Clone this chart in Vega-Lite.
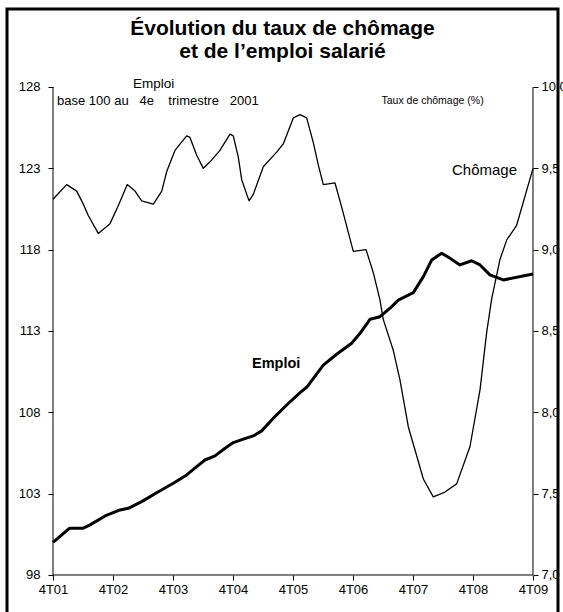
{
  "$schema": "https://vega.github.io/schema/vega-lite/v6.json",
  "autosize": "none",
  "width": 551,
  "height": 610,
  "padding": {"left": 7, "top": 9, "right": 5, "bottom": 0},
  "background": "white",
  "config": {
    "view": {"stroke": "black", "strokeWidth": 3},
    "font": "Liberation Sans",
    "axis": {"labelColor": "black", "tickColor": "black", "labelFont": "Liberation Sans", "labelFontSize": 13, "grid": false, "domain": false, "tickSize": 5, "title": null}
  },
  "title": {
    "text": ["Évolution du taux de chômage", "et de l’emploi salarié"],
    "font": "Liberation Sans",
    "fontSize": 21,
    "fontWeight": "bold",
    "color": "black",
    "anchor": "middle",
    "frame": "group",
    "offset": -53,
    "lineHeight": 23
  },
  "datasets": {
    "emploi": [
      {"t": 0, "emploi": 100.0}, {"t": 1.09, "emploi": 100.87}, {"t": 1.98, "emploi": 100.87}, {"t": 2.47, "emploi": 101.08},
      {"t": 3.47, "emploi": 101.63}, {"t": 4.47, "emploi": 102.0}, {"t": 5.02, "emploi": 102.1}, {"t": 5.91, "emploi": 102.51},
      {"t": 6.91, "emploi": 103.06}, {"t": 8.02, "emploi": 103.64}, {"t": 8.91, "emploi": 104.15}, {"t": 9.58, "emploi": 104.66},
      {"t": 10.13, "emploi": 105.07}, {"t": 10.8, "emploi": 105.32}, {"t": 11.47, "emploi": 105.79}, {"t": 12.02, "emploi": 106.14},
      {"t": 12.69, "emploi": 106.35}, {"t": 13.35, "emploi": 106.55}, {"t": 13.91, "emploi": 106.86}, {"t": 14.69, "emploi": 107.64},
      {"t": 15.58, "emploi": 108.45}, {"t": 16.47, "emploi": 109.21}, {"t": 16.91, "emploi": 109.54}, {"t": 18.02, "emploi": 110.9},
      {"t": 18.91, "emploi": 111.57}, {"t": 19.91, "emploi": 112.25}, {"t": 20.47, "emploi": 112.86}, {"t": 21.13, "emploi": 113.72},
      {"t": 21.8, "emploi": 113.88}, {"t": 22.47, "emploi": 114.4}, {"t": 23.02, "emploi": 114.9}, {"t": 24.02, "emploi": 115.36},
      {"t": 24.69, "emploi": 116.34}, {"t": 25.25, "emploi": 117.37}, {"t": 25.91, "emploi": 117.78}, {"t": 26.47, "emploi": 117.47},
      {"t": 27.13, "emploi": 117.06}, {"t": 27.91, "emploi": 117.32}, {"t": 28.47, "emploi": 117.06}, {"t": 29.13, "emploi": 116.45},
      {"t": 30.02, "emploi": 116.14}, {"t": 32, "emploi": 116.5}
    ],
    "chomage": [
      {"t": 0, "chomage": 9.31}, {"t": 0.91, "chomage": 9.4}, {"t": 1.58, "chomage": 9.36}, {"t": 2.02, "chomage": 9.28},
      {"t": 2.35, "chomage": 9.21}, {"t": 3.02, "chomage": 9.1}, {"t": 3.8, "chomage": 9.16}, {"t": 4.35, "chomage": 9.27},
      {"t": 4.95, "chomage": 9.4}, {"t": 5.47, "chomage": 9.36}, {"t": 5.91, "chomage": 9.3}, {"t": 6.69, "chomage": 9.28},
      {"t": 7.25, "chomage": 9.36}, {"t": 7.58, "chomage": 9.48}, {"t": 8.13, "chomage": 9.61}, {"t": 8.91, "chomage": 9.7},
      {"t": 9.13, "chomage": 9.69}, {"t": 9.58, "chomage": 9.58}, {"t": 10.02, "chomage": 9.5}, {"t": 10.47, "chomage": 9.54},
      {"t": 11.13, "chomage": 9.61}, {"t": 11.8, "chomage": 9.71}, {"t": 12.02, "chomage": 9.7}, {"t": 12.35, "chomage": 9.57},
      {"t": 12.58, "chomage": 9.43}, {"t": 13.07, "chomage": 9.3}, {"t": 13.35, "chomage": 9.34}, {"t": 14.02, "chomage": 9.51},
      {"t": 14.91, "chomage": 9.6}, {"t": 15.35, "chomage": 9.65}, {"t": 16.02, "chomage": 9.81}, {"t": 16.47, "chomage": 9.83},
      {"t": 16.91, "chomage": 9.81}, {"t": 17.35, "chomage": 9.66}, {"t": 17.69, "chomage": 9.52}, {"t": 18.02, "chomage": 9.4},
      {"t": 18.8, "chomage": 9.41}, {"t": 19.25, "chomage": 9.26}, {"t": 20.02, "chomage": 8.99}, {"t": 20.87, "chomage": 9.0},
      {"t": 21.35, "chomage": 8.86}, {"t": 21.8, "chomage": 8.69}, {"t": 22.02, "chomage": 8.57}, {"t": 22.69, "chomage": 8.38},
      {"t": 23.13, "chomage": 8.2}, {"t": 23.69, "chomage": 7.91}, {"t": 24.13, "chomage": 7.77}, {"t": 24.69, "chomage": 7.59},
      {"t": 25.35, "chomage": 7.48}, {"t": 26.13, "chomage": 7.51}, {"t": 26.91, "chomage": 7.56}, {"t": 27.8, "chomage": 7.79},
      {"t": 28.47, "chomage": 8.14}, {"t": 28.91, "chomage": 8.49}, {"t": 29.25, "chomage": 8.7}, {"t": 29.8, "chomage": 8.94},
      {"t": 30.25, "chomage": 9.06}, {"t": 30.91, "chomage": 9.15}, {"t": 32, "chomage": 9.5}
    ]
  },
  "layer": [
    {
      "layer": [
        {
          "data": {"name": "emploi"},
          "mark": {"type": "line", "color": "black", "strokeWidth": 3, "strokeJoin": "round"},
          "encoding": {
            "x": {"field": "t", "type": "quantitative",
              "scale": {"domain": [-3.0667, 33.6667], "nice": false, "zero": false},
              "axis": {"orient": "bottom", "offset": -44, "values": [0, 4, 8, 12, 16, 20, 24, 28, 32], "labelExpr": "'4T0' + (datum.value / 4 + 1)", "labelPadding": 3, "labelFlush": false}},
            "y": {"field": "emploi", "type": "quantitative",
              "scale": {"domain": [95.295, 132.795], "nice": false, "zero": false},
              "axis": {"orient": "left", "offset": -46, "values": [98, 103, 108, 113, 118, 123, 128], "labelPadding": 8}}
          }
        },
        {
          "data": {"values": [{}]},
          "mark": {"type": "rule", "color": "black", "strokeWidth": 1},
          "encoding": {"x": {"datum": 0, "type": "quantitative"}, "y": {"datum": 98, "type": "quantitative"}, "y2": {"datum": 128}}
        },
        {
          "data": {"values": [{}]},
          "mark": {"type": "rule", "color": "black", "strokeWidth": 1},
          "encoding": {"x": {"datum": 32, "type": "quantitative"}, "y": {"datum": 98, "type": "quantitative"}, "y2": {"datum": 128}}
        },
        {
          "data": {"values": [{}]},
          "mark": {"type": "rule", "color": "black", "strokeWidth": 1},
          "encoding": {"x": {"datum": 0, "type": "quantitative"}, "x2": {"datum": 32}, "y": {"datum": 98, "type": "quantitative"}}
        },
        {
          "data": {"values": [{}]},
          "mark": {"type": "text", "text": "Emploi", "fontSize": 13.5, "align": "center", "baseline": "middle", "color": "black"},
          "encoding": {"x": {"datum": 6.7, "type": "quantitative"}, "y": {"datum": 128.2, "type": "quantitative"}}
        },
        {
          "data": {"values": [{}]},
          "mark": {"type": "text", "text": "base 100 au\u00a0\u00a0 4e\u00a0\u00a0\u00a0 trimestre\u00a0\u00a0 2001", "fontSize": 13, "align": "left", "baseline": "middle", "color": "black"},
          "encoding": {"x": {"datum": 0.27, "type": "quantitative"}, "y": {"datum": 127.14, "type": "quantitative"}}
        },
        {
          "data": {"values": [{}]},
          "mark": {"type": "text", "text": "Taux de chômage (%)", "fontSize": 10.5, "align": "left", "baseline": "middle", "color": "black"},
          "encoding": {"x": {"datum": 21.9, "type": "quantitative"}, "y": {"datum": 127.14, "type": "quantitative"}}
        },
        {
          "data": {"values": [{}]},
          "mark": {"type": "text", "text": "Chômage", "fontSize": 15, "align": "left", "baseline": "middle", "color": "black"},
          "encoding": {"x": {"datum": 26.6, "type": "quantitative"}, "y": {"datum": 122.9, "type": "quantitative"}}
        },
        {
          "data": {"values": [{}]},
          "mark": {"type": "text", "text": "Emploi", "fontSize": 14.5, "fontWeight": "bold", "align": "left", "baseline": "middle", "color": "black"},
          "encoding": {"x": {"datum": 13.27, "type": "quantitative"}, "y": {"datum": 110.97, "type": "quantitative"}}
        }
      ]
    },
    {
      "data": {"name": "chomage"},
      "mark": {"type": "line", "color": "black", "strokeWidth": 1.3, "strokeJoin": "round"},
      "encoding": {
        "x": {"field": "t", "type": "quantitative"},
        "y": {"field": "chomage", "type": "quantitative",
          "scale": {"domain": [6.7295, 10.4795], "nice": false, "zero": false},
          "axis": {"orient": "right", "offset": -25, "values": [7, 7.5, 8, 8.5, 9, 9.5, 10], "labelExpr": "replace(format(datum.value, '.1f'), '.', ',')", "labelPadding": 3}}
      }
    }
  ],
  "resolve": {"scale": {"y": "independent"}}
}
